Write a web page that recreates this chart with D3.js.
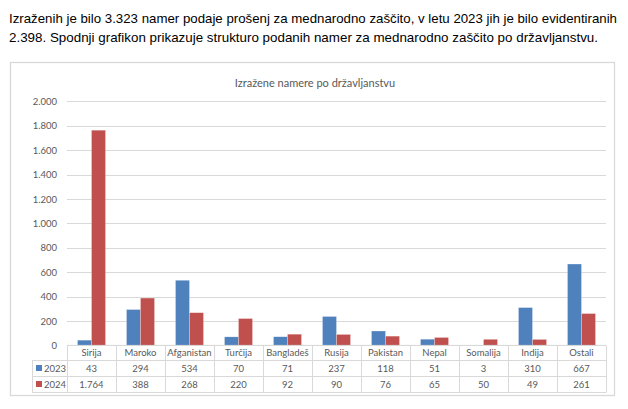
<!DOCTYPE html>
<html><head><meta charset="utf-8">
<script src="https://cdn.jsdelivr.net/npm/d3@7"></script>
<style>
html,body{margin:0;padding:0;background:#fff;}
svg{display:block;}
</style></head>
<body>
<svg id="c" width="628" height="409"></svg>
<script>
const categories = ["Sirija","Maroko","Afganistan","Turčija","Bangladeš","Rusija","Pakistan","Nepal","Somalija","Indija","Ostali"];
const series = ["2023","2024"];
const values2023 = [43,294,534,70,71,237,118,51,3,310,667];
const values2024 = [1764,388,268,220,92,90,76,65,50,49,261];
const yTicks = [0,200,400,600,800,1000,1200,1400,1600,1800,2000];
const colors = ["#4F81BD","#C0504D"];
const headerLines = ["Izraženih je bilo 3.323 namer podaje prošenj za mednarodno zaščito, v letu 2023 jih je bilo evidentiranih",
                     "2.398. Spodnji grafikon prikazuje strukturo podanih namer za mednarodno zaščito po državljanstvu."];
const headerWidths = [608, 589];
const chartTitle = "Izražene namere po državljanstvu";

(function(){
const loc = d3.formatLocale({decimal:",", thousands:".", grouping:[3], currency:["",""]});
const fmt = loc.format(",d");

const svg = d3.select("#c");
const grey = "#595959", line = "#d9d9d9";
const chartFont = "Lato, 'Open Sans', sans-serif";

// header
svg.selectAll("text.hdr").data(headerLines).join("text")
  .attr("class","hdr")
  .attr("x",9).attr("y",(d,i)=>23+i*19)
  .attr("font-family","'Liberation Sans', Arial, sans-serif")
  .attr("font-size",13.3).attr("fill","#000")
  .attr("textLength",(d,i)=>headerWidths[i]).attr("lengthAdjust","spacingAndGlyphs")
  .text(d=>d);

// chart frame
svg.append("rect").attr("x",10.5).attr("y",62.5).attr("width",604).attr("height",333)
  .attr("fill","#fff").attr("stroke","#d9d9d9").attr("stroke-width",1.3);

svg.append("text").attr("x",315).attr("y",87).attr("text-anchor","middle")
  .attr("font-family",chartFont).attr("font-size",11).attr("fill",grey).text(chartTitle);

const pLeft=67, pRight=606, pTop=101.4, pBottom=345.4;
const x = d3.scaleBand().domain(categories).range([pLeft,pRight]);
const bw = x.bandwidth()*0.286;
const x1 = d3.scaleBand().domain(series).range([0,bw*2]);
const y = d3.scaleLinear().domain([0,2000]).range([pBottom,pTop]);

// gridlines
svg.append("g").selectAll("line").data(yTicks).join("line")
  .attr("x1",pLeft).attr("x2",pRight)
  .attr("y1",d=>Math.round(y(d))+0.5).attr("y2",d=>Math.round(y(d))+0.5)
  .attr("stroke",line).attr("stroke-width",1);

const yAxis = svg.append("g").attr("transform",`translate(${pLeft},0)`)
  .call(d3.axisLeft(y).tickValues(yTicks).tickFormat(fmt).tickSize(0).tickPadding(10));
yAxis.select(".domain").remove();
yAxis.selectAll("text").attr("font-family",chartFont).attr("font-size",9.5).attr("fill",grey);

// bars
const data = categories.map((c,i)=>({c, v:[values2023[i],values2024[i]]}));
const grp = svg.append("g").selectAll("g").data(data).join("g")
  .attr("transform",d=>`translate(${x(d.c)+(x.bandwidth()-bw*2)/2},0)`);
grp.selectAll("rect").data(d=>d.v.map((v,j)=>({s:series[j],v,j}))).join("rect")
  .attr("x",d=>x1(d.s)).attr("width",x1.bandwidth())
  .attr("y",d=>y(d.v)).attr("height",d=>y(0)-y(d.v))
  .attr("fill",d=>colors[d.j])
  .attr("stroke","#fff").attr("stroke-opacity",0.5).attr("stroke-width",0.5);

// table
const rowY = [345.4, 360.5, 376.5, 392.5];
const legLeft = 32;
const t = svg.append("g").attr("stroke",line).attr("stroke-width",1);
t.append("line").attr("x1",pLeft).attr("x2",pRight).attr("y1",rowY[0]).attr("y2",rowY[0]);
[1,2,3].forEach(k=>t.append("line").attr("x1",legLeft).attr("x2",pRight).attr("y1",rowY[k]).attr("y2",rowY[k]));
const vx = categories.map(c=>Math.round(x(c))+0.5).concat([pRight+0.5]);
vx.forEach(v=>t.append("line").attr("x1",v).attr("x2",v).attr("y1",rowY[0]).attr("y2",rowY[3]));
t.append("line").attr("x1",legLeft+0.5).attr("x2",legLeft+0.5).attr("y1",rowY[1]).attr("y2",rowY[3]);

const tf = svg.append("g").attr("font-family",chartFont).attr("font-size",9.5).attr("fill",grey).attr("text-anchor","middle");
tf.selectAll("text.cat").data(categories).join("text").attr("class","cat")
  .attr("x",d=>x(d)+x.bandwidth()/2).attr("y",(rowY[0]+rowY[1])/2+3.5).text(d=>d);
[values2023,values2024].forEach((vals,k)=>{
  tf.selectAll("text.v"+k).data(vals).join("text").attr("class","v"+k)
    .attr("x",(d,i)=>x(categories[i])+x.bandwidth()/2)
    .attr("y",(rowY[k+1]+rowY[k+2])/2+3.5).text(d=>fmt(d));
  svg.append("rect").attr("x",36).attr("y",(rowY[k+1]+rowY[k+2])/2-3.5).attr("width",6).attr("height",6).attr("fill",colors[k]);
  svg.append("text").attr("x",44).attr("y",(rowY[k+1]+rowY[k+2])/2+3.5)
    .attr("font-family",chartFont).attr("font-size",9.5).attr("fill",grey).text(series[k]);
});
})();
</script>
</body></html>
